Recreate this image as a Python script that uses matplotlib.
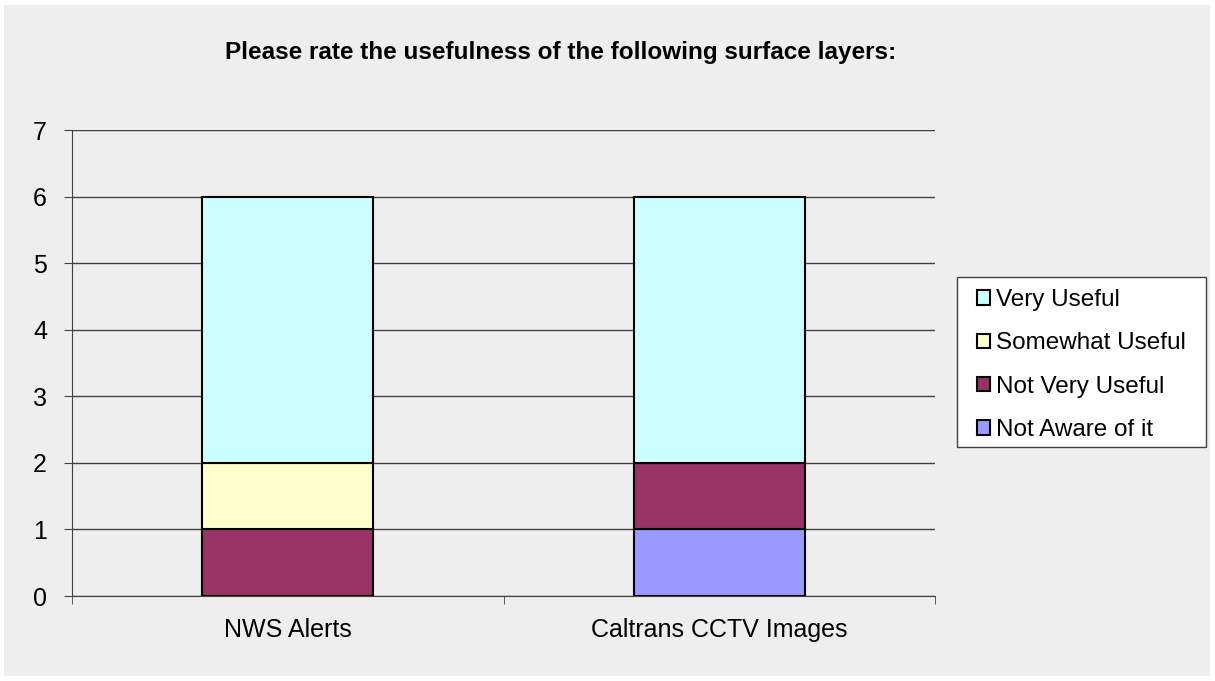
import matplotlib.pyplot as plt
from matplotlib.patches import Rectangle

categories = ["NWS Alerts", "Caltrans CCTV Images"]
series = ["Not Aware of it", "Not Very Useful", "Somewhat Useful", "Very Useful"]
not_aware = [0, 1]
not_very = [1, 1]
somewhat = [1, 0]
very = [4, 4]
values = [not_aware, not_very, somewhat, very]
colors = ["#9999FF", "#993366", "#FFFFCC", "#CCFFFF"]

plt.rcParams['font.family'] = ['Liberation Sans', 'DejaVu Sans']

fig = plt.figure(figsize=(12.15, 6.81), dpi=100)
fig.patch.set_facecolor("white")
# grey chart area inside a thin white border
fig.patches.append(Rectangle((4 / 1215, 5 / 681), 1206 / 1215, 671 / 681,
                             transform=fig.transFigure, facecolor="#EEEEEE",
                             edgecolor="none", zorder=-10))

ax = fig.add_axes([72 / 1215, 1 - 596 / 681, 863 / 1215, 466 / 681])
ax.set_facecolor("#EEEEEE")

x = list(range(len(categories)))
bottom = [0] * len(categories)
handles = []
for name, vals, col in zip(series, values, colors):
    b = ax.bar(x, vals, width=0.396, bottom=bottom, color=col,
               edgecolor="black", linewidth=1.5, label=name, zorder=3)
    handles.append(b)
    bottom = [bo + v for bo, v in zip(bottom, vals)]

ax.set_xlim(-0.5, 1.5)
ax.set_ylim(0, 7)
ax.set_yticks(range(0, 8))
ax.yaxis.grid(True, color="#404040", linewidth=1)
ax.set_axisbelow(True)
ax.set_xticks(x)
ax.set_xticklabels(categories)
ax.set_xticks([-0.5, 0.5, 1.5], minor=True)
ax.tick_params(axis="x", which="major", length=0, labelsize=18, pad=16)
ax.tick_params(axis="x", which="minor", length=6, color="#404040")
ax.tick_params(axis="y", length=6, color="#404040", labelsize=18, pad=12)
for s in ["top", "right"]:
    ax.spines[s].set_visible(False)
for s in ["left", "bottom"]:
    ax.spines[s].set_color("#404040")

fig.text(561 / 1215, 1 - 52 / 681, "Please rate the usefulness of the following surface layers:",
         ha="center", va="center", fontsize=17.5, fontweight="bold")

# legend box drawn by hand so its size matches
fig.patches.append(Rectangle((957 / 1215, 1 - 447 / 681), 249 / 1215, 170 / 681,
                             transform=fig.transFigure, facecolor="white",
                             edgecolor="#404040", linewidth=1, zorder=1))
leg = fig.legend(handles[::-1], series[::-1], loc="upper left",
                 bbox_to_anchor=(977 / 1215, 1 - 289 / 681), fontsize=17.5,
                 frameon=False, handlelength=0.53, handleheight=0.53,
                 handletextpad=0.25, labelspacing=0.88, borderpad=0,
                 borderaxespad=0)
leg.set_zorder(2)

fig.savefig("out.png", dpi=100, facecolor=fig.get_facecolor())
